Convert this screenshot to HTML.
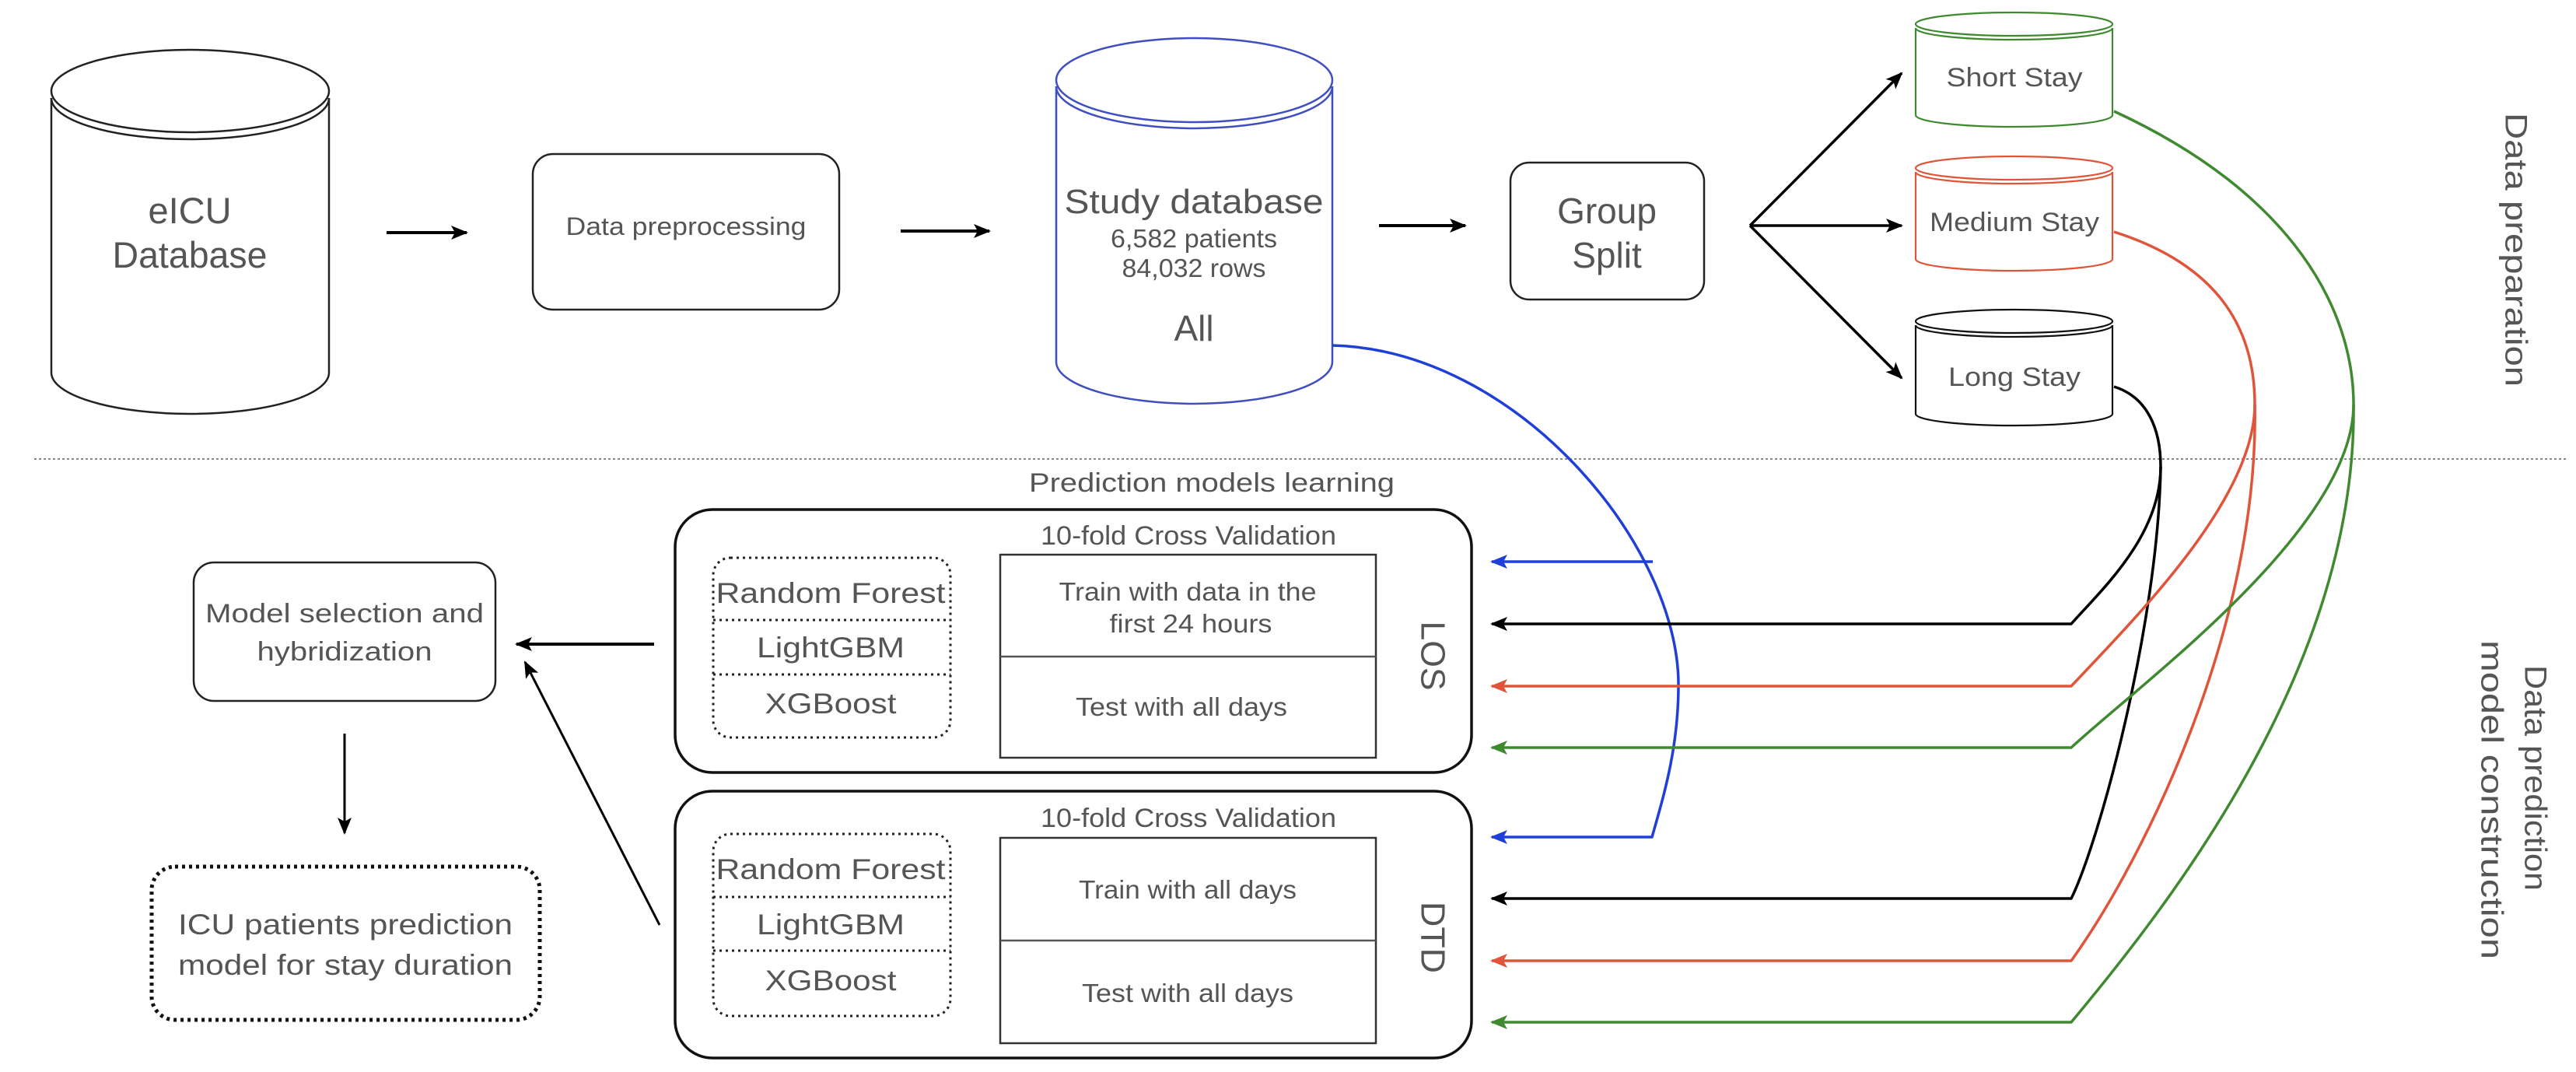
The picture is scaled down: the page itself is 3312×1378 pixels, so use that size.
<!DOCTYPE html>
<html><head><meta charset="utf-8"><style>
html,body{margin:0;padding:0;background:#fff;}
svg{display:block;}
text{font-family:"Liberation Sans",Arial,sans-serif;fill:#555;}
</style></head><body>
<svg width="3312" height="1378" viewBox="0 0 3312 1378" xmlns="http://www.w3.org/2000/svg">
<defs>
<marker id="ak" markerWidth="22" markerHeight="18" refX="20" refY="9" orient="auto" markerUnits="userSpaceOnUse"><path d="M0,0 L22,9 L0,18 L5,9 Z" fill="#000"/></marker>
<marker id="ab" markerWidth="22" markerHeight="18" refX="20" refY="9" orient="auto" markerUnits="userSpaceOnUse"><path d="M0,0 L22,9 L0,18 L5,9 Z" fill="#1f3fd8"/></marker>
<marker id="ar" markerWidth="22" markerHeight="18" refX="20" refY="9" orient="auto" markerUnits="userSpaceOnUse"><path d="M0,0 L22,9 L0,18 L5,9 Z" fill="#e0553a"/></marker>
<marker id="ag" markerWidth="22" markerHeight="18" refX="20" refY="9" orient="auto" markerUnits="userSpaceOnUse"><path d="M0,0 L22,9 L0,18 L5,9 Z" fill="#3f8a30"/></marker>
</defs>

<!-- eICU cylinder -->
<g fill="none" stroke="#222" stroke-width="2.5">
<path d="M66,126 L66,479 A178.5,53 0 0 0 423,479 L423,126"/>
<ellipse cx="244.5" cy="117" rx="178.5" ry="53" fill="#fff"/>
<path d="M66,126 A178.5,53 0 0 0 423,126"/>
</g>
<text x="244" y="287" font-size="47" text-anchor="middle">eICU</text>
<text x="244" y="344" font-size="47" text-anchor="middle" textLength="199" lengthAdjust="spacingAndGlyphs">Database</text>

<line x1="497" y1="299" x2="600" y2="299" stroke="#000" stroke-width="4" marker-end="url(#ak)"/>

<rect x="685" y="198" width="394" height="200" rx="26" fill="none" stroke="#222" stroke-width="2.5"/>
<text x="882" y="302" font-size="32" text-anchor="middle" textLength="309" lengthAdjust="spacingAndGlyphs">Data preprocessing</text>

<line x1="1158" y1="297" x2="1272" y2="297" stroke="#000" stroke-width="4" marker-end="url(#ak)"/>

<!-- Study db -->
<g fill="none" stroke="#3f4fbf" stroke-width="2.5">
<path d="M1358,111 L1358,465 A177.5,54 0 0 0 1713,465 L1713,111"/>
<ellipse cx="1535.5" cy="103" rx="177.5" ry="54" fill="#fff"/>
<path d="M1358,111 A177.5,54 0 0 0 1713,111"/>
</g>
<text x="1535" y="274" font-size="44" text-anchor="middle" textLength="333" lengthAdjust="spacingAndGlyphs">Study database</text>
<text x="1535" y="318" font-size="33" text-anchor="middle" textLength="214" lengthAdjust="spacingAndGlyphs">6,582 patients</text>
<text x="1535" y="356" font-size="33" text-anchor="middle" textLength="185" lengthAdjust="spacingAndGlyphs">84,032 rows</text>
<text x="1535" y="438" font-size="46" text-anchor="middle">All</text>

<line x1="1773" y1="290" x2="1884" y2="290" stroke="#000" stroke-width="4" marker-end="url(#ak)"/>

<rect x="1942" y="209" width="249" height="176" rx="24" fill="none" stroke="#222" stroke-width="2.5"/>
<text x="2066" y="287" font-size="46" text-anchor="middle">Group</text>
<text x="2066" y="344" font-size="46" text-anchor="middle">Split</text>

<g stroke="#000" stroke-width="3.5" fill="none">
<line x1="2250" y1="290" x2="2445" y2="94" marker-end="url(#ak)"/>
<line x1="2250" y1="290" x2="2445" y2="290" marker-end="url(#ak)"/>
<line x1="2250" y1="290" x2="2445" y2="486" marker-end="url(#ak)"/>
</g>

<!-- small cylinders -->
<g fill="none" stroke-width="2.2">
<g stroke="#3f8a30">
<path d="M2463,36 L2463,148 A126.5,15 0 0 0 2716,148 L2716,36"/>
<ellipse cx="2589.5" cy="31" rx="126.5" ry="15" fill="#fff"/>
<path d="M2463,36 A126.5,15 0 0 0 2716,36"/>
</g>
<g stroke="#e0553a">
<path d="M2463,221 L2463,333 A126.5,15 0 0 0 2716,333 L2716,221"/>
<ellipse cx="2589.5" cy="216" rx="126.5" ry="15" fill="#fff"/>
<path d="M2463,221 A126.5,15 0 0 0 2716,221"/>
</g>
<g stroke="#111">
<path d="M2463,418 L2463,532 A126.5,15 0 0 0 2716,532 L2716,418"/>
<ellipse cx="2589.5" cy="413" rx="126.5" ry="15" fill="#fff"/>
<path d="M2463,418 A126.5,15 0 0 0 2716,418"/>
</g>
</g>
<text x="2590" y="111" font-size="34" text-anchor="middle" textLength="175" lengthAdjust="spacingAndGlyphs">Short Stay</text>
<text x="2590" y="297" font-size="34" text-anchor="middle" textLength="218" lengthAdjust="spacingAndGlyphs">Medium Stay</text>
<text x="2590" y="496" font-size="34" text-anchor="middle" textLength="170" lengthAdjust="spacingAndGlyphs">Long Stay</text>

<text transform="translate(3232,321) rotate(90)" font-size="40" text-anchor="middle" dominant-baseline="middle" textLength="352" lengthAdjust="spacingAndGlyphs">Data preparation</text>

<line x1="44" y1="590" x2="3300" y2="590" stroke="#888" stroke-width="2" stroke-dasharray="3,3"/>

<text x="1558" y="632" font-size="34" text-anchor="middle" textLength="470" lengthAdjust="spacingAndGlyphs">Prediction models learning</text>

<!-- LOS box -->
<rect x="868" y="655" width="1024" height="338" rx="48" fill="none" stroke="#111" stroke-width="3.5"/>
<text x="1528" y="700" font-size="34" text-anchor="middle" textLength="380" lengthAdjust="spacingAndGlyphs">10-fold Cross Validation</text>
<rect x="917" y="717" width="305" height="231" rx="22" fill="none" stroke="#222" stroke-width="3" stroke-dasharray="3,5"/>
<line x1="917" y1="797" x2="1222" y2="797" stroke="#222" stroke-width="3" stroke-dasharray="3,5"/>
<line x1="917" y1="867" x2="1222" y2="867" stroke="#222" stroke-width="3" stroke-dasharray="3,5"/>
<text x="1068" y="775" font-size="37" text-anchor="middle" textLength="295" lengthAdjust="spacingAndGlyphs">Random Forest</text>
<text x="1068" y="845" font-size="37" text-anchor="middle" textLength="190" lengthAdjust="spacingAndGlyphs">LightGBM</text>
<text x="1068" y="917" font-size="37" text-anchor="middle" textLength="169" lengthAdjust="spacingAndGlyphs">XGBoost</text>
<rect x="1286" y="713" width="483" height="261" fill="none" stroke="#333" stroke-width="2.5"/>
<line x1="1286" y1="844" x2="1769" y2="844" stroke="#555" stroke-width="2.5"/>
<text x="1527" y="772" font-size="33" text-anchor="middle" textLength="331" lengthAdjust="spacingAndGlyphs">Train with data in the</text>
<text x="1531" y="813" font-size="33" text-anchor="middle" textLength="209" lengthAdjust="spacingAndGlyphs">first 24 hours</text>
<text x="1519" y="920" font-size="33" text-anchor="middle" textLength="272" lengthAdjust="spacingAndGlyphs">Test with all days</text>
<text transform="translate(1839,843) rotate(90)" font-size="44" text-anchor="middle" dominant-baseline="middle" textLength="89" lengthAdjust="spacingAndGlyphs">LOS</text>

<!-- DTD box -->
<rect x="868" y="1017" width="1024" height="343" rx="48" fill="none" stroke="#111" stroke-width="3.5"/>
<text x="1528" y="1063" font-size="34" text-anchor="middle" textLength="380" lengthAdjust="spacingAndGlyphs">10-fold Cross Validation</text>
<rect x="917" y="1072" width="305" height="234" rx="22" fill="none" stroke="#222" stroke-width="3" stroke-dasharray="3,5"/>
<line x1="917" y1="1153" x2="1222" y2="1153" stroke="#222" stroke-width="3" stroke-dasharray="3,5"/>
<line x1="917" y1="1222" x2="1222" y2="1222" stroke="#222" stroke-width="3" stroke-dasharray="3,5"/>
<text x="1068" y="1130" font-size="37" text-anchor="middle" textLength="295" lengthAdjust="spacingAndGlyphs">Random Forest</text>
<text x="1068" y="1201" font-size="37" text-anchor="middle" textLength="190" lengthAdjust="spacingAndGlyphs">LightGBM</text>
<text x="1068" y="1273" font-size="37" text-anchor="middle" textLength="169" lengthAdjust="spacingAndGlyphs">XGBoost</text>
<rect x="1286" y="1077" width="483" height="264" fill="none" stroke="#333" stroke-width="2.5"/>
<line x1="1286" y1="1209" x2="1769" y2="1209" stroke="#555" stroke-width="2.5"/>
<text x="1527" y="1155" font-size="33" text-anchor="middle" textLength="280" lengthAdjust="spacingAndGlyphs">Train with all days</text>
<text x="1527" y="1288" font-size="33" text-anchor="middle" textLength="272" lengthAdjust="spacingAndGlyphs">Test with all days</text>
<text transform="translate(1839,1205) rotate(90)" font-size="44" text-anchor="middle" dominant-baseline="middle" textLength="92" lengthAdjust="spacingAndGlyphs">DTD</text>

<!-- left side -->
<rect x="249" y="723" width="388" height="178" rx="26" fill="none" stroke="#222" stroke-width="2.5"/>
<text x="443" y="800" font-size="34" text-anchor="middle" textLength="358" lengthAdjust="spacingAndGlyphs">Model selection and</text>
<text x="443" y="849" font-size="34" text-anchor="middle" textLength="225" lengthAdjust="spacingAndGlyphs">hybridization</text>
<rect x="195" y="1114" width="499" height="197" rx="30" fill="none" stroke="#111" stroke-width="5" stroke-dasharray="4,5"/>
<text x="444" y="1201" font-size="37" text-anchor="middle" textLength="430" lengthAdjust="spacingAndGlyphs">ICU patients prediction</text>
<text x="444" y="1253" font-size="37" text-anchor="middle" textLength="430" lengthAdjust="spacingAndGlyphs">model for stay duration</text>

<line x1="841" y1="828" x2="664" y2="828" stroke="#000" stroke-width="4" marker-end="url(#ak)"/>
<line x1="848" y1="1189" x2="675" y2="851" stroke="#000" stroke-width="3" marker-end="url(#ak)"/>
<line x1="443" y1="943" x2="443" y2="1071" stroke="#000" stroke-width="3" marker-end="url(#ak)"/>

<!-- connectors -->
<g fill="none" stroke-linejoin="round" stroke-width="3.5">
<path stroke="#1f3fd8" d="M1713,444 C1950,450 2158,700 2158,880 C2158,960 2140,1020 2124,1076 L1918,1076" marker-end="url(#ab)"/>
<path stroke="#1f3fd8" d="M2125,722 L1918,722" marker-end="url(#ab)"/>
<path stroke="#000" d="M2718,497 C2760,510 2778,550 2778,600 C2778,690 2700,760 2663,802 L1918,802" marker-end="url(#ak)"/>
<path stroke="#000" d="M2778,600 C2775,800 2700,1080 2663,1155 L1918,1155" marker-end="url(#ak)"/>
<path stroke="#e0553a" d="M2718,298 C2850,340 2899,420 2899,520 C2899,640 2750,790 2663,882 L1918,882" marker-end="url(#ar)"/>
<path stroke="#e0553a" d="M2899,520 C2905,800 2760,1100 2663,1235 L1918,1235" marker-end="url(#ar)"/>
<path stroke="#3f8a30" d="M2718,143 C2950,250 3026,400 3026,520 C3026,680 2750,880 2663,961 L1918,961" marker-end="url(#ag)"/>
<path stroke="#3f8a30" d="M3026,520 C3030,850 2800,1150 2663,1314 L1918,1314" marker-end="url(#ag)"/>
</g>

<text transform="translate(3257,1000) rotate(90)" font-size="40" text-anchor="middle" dominant-baseline="middle" textLength="290" lengthAdjust="spacingAndGlyphs">Data prediction</text>
<text transform="translate(3201,1028) rotate(90)" font-size="40" text-anchor="middle" dominant-baseline="middle" textLength="410" lengthAdjust="spacingAndGlyphs">model construction</text>
</svg>
</body></html>
